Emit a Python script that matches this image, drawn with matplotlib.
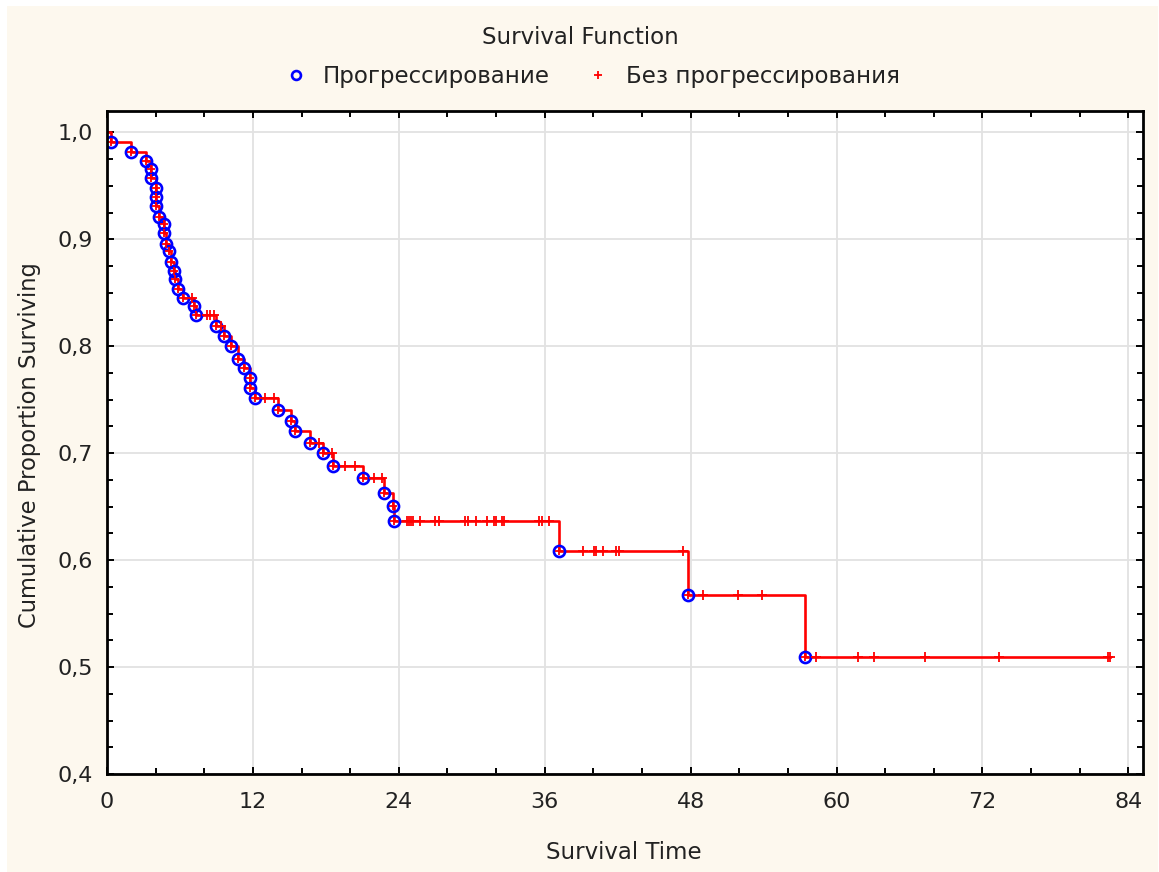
"""Kaplan-Meier style survival curve, recreated from a Statistica screenshot."""
import matplotlib
matplotlib.use("Agg")
import matplotlib.pyplot as plt
import numpy as np
from matplotlib.patches import Rectangle
from matplotlib.ticker import FuncFormatter, MultipleLocator

# event times (months) and survival right after each event
event_t = [0.36, 1.98, 3.24, 3.62, 3.62, 4.05, 4.05, 4.05, 4.26, 4.72, 4.72,
           4.86, 5.08, 5.27, 5.49, 5.63, 5.84, 6.26, 7.14, 7.34, 9.0, 9.6,
           10.16, 10.78, 11.25, 11.8, 11.8, 12.21, 14.07, 15.1, 15.5, 16.68,
           17.75, 18.58, 21.05, 22.77, 23.5, 23.64, 37.18, 47.82, 57.42]
event_s = [0.991, 0.982, 0.973, 0.966, 0.957, 0.948, 0.940, 0.931, 0.921,
           0.914, 0.906, 0.896, 0.889, 0.879, 0.870, 0.863, 0.854, 0.845,
           0.838, 0.829, 0.819, 0.810, 0.800, 0.788, 0.780, 0.770, 0.761,
           0.752, 0.740, 0.730, 0.721, 0.710, 0.700, 0.688, 0.677, 0.663,
           0.651, 0.637, 0.609, 0.567, 0.509]

# censored times (no progression)
censor_t = [7.0, 8.25, 8.5, 8.8, 9.4, 13.0, 13.7, 17.4, 18.5, 19.6, 20.4,
            21.96, 22.6, 24.67, 24.86, 25.02, 25.16, 25.77, 26.96, 27.3,
            29.44, 29.71, 30.32, 31.23, 31.83, 32.02, 32.47, 32.65, 35.53,
            35.75, 36.35, 39.18, 40.06, 40.25, 40.8, 41.89, 42.11, 47.41,
            49.05, 51.93, 53.83, 58.3, 61.73, 63.05, 67.3, 73.33, 82.35, 82.5]

TITLE = "Survival Function"
LABEL_EVENT = "Прогрессирование"
LABEL_CENSOR = "Без прогрессирования"
XLABEL = "Survival Time"
YLABEL = "Cumulative Proportion Surviving"

CREAM = "#fdf8ee"
TXT = "#222222"

plt.rcParams["font.family"] = ["DejaVu Sans"]


def main():
    fig = plt.figure(figsize=(11.59, 8.72), dpi=100, facecolor="white")
    fig.patches.append(Rectangle((7 / 1159, 0), 1 - 8 / 1159, 1 - 6 / 872,
                                 transform=fig.transFigure, facecolor=CREAM,
                                 edgecolor="none", zorder=-10))
    ax = fig.add_axes([107 / 1159, 1 - 774 / 872,
                       (1143 - 107) / 1159, (774 - 111) / 872])
    ax.set_facecolor("white")

    et = np.asarray(event_t)
    es = np.asarray(event_s)
    ct = np.asarray(censor_t)
    idx = np.searchsorted(et, ct, side="right") - 1
    cs = np.where(idx >= 0, es[np.clip(idx, 0, None)], 1.0)

    # step line from t=0 to last censored time
    xs = np.concatenate([[0.0], et, [ct.max()]])
    ys = np.concatenate([[1.0], es, [es[-1]]])
    ax.step(xs, ys, where="post", color="#ff0000", linewidth=1.9, zorder=3)

    ax.plot(et, es, "o", markersize=8, markerfacecolor="none",
            markeredgecolor="#0000ff", markeredgewidth=1.9, zorder=4,
            label=LABEL_EVENT)
    ax.plot(et, es, "+", markersize=6, color="#ff0000", markeredgewidth=1.3,
            zorder=5)
    ax.plot(ct, cs, "+", markersize=7.5, color="#ff0000", markeredgewidth=1.3,
            zorder=5, label=LABEL_CENSOR)

    ax.set_xlim(0, 85.2)
    ax.set_ylim(0.4, 1.02)
    ax.xaxis.set_major_locator(MultipleLocator(12))
    ax.xaxis.set_minor_locator(MultipleLocator(4))
    ax.yaxis.set_major_locator(MultipleLocator(0.1))
    ax.yaxis.set_minor_locator(MultipleLocator(0.025))
    ax.yaxis.set_major_formatter(
        FuncFormatter(lambda v, p: f"{v:.1f}".replace(".", ",")))
    ax.tick_params(which="both", direction="in", top=True, right=True,
                   width=1.4, colors="black", labelcolor=TXT, labelsize=16)
    ax.tick_params(which="major", length=5)
    ax.tick_params(which="minor", length=4)
    ax.tick_params(axis="x", which="major", pad=13)
    ax.tick_params(axis="y", which="major", pad=10)
    ax.grid(True, which="major", color="#e2e2e2", linewidth=1.3)
    ax.set_axisbelow(True)
    for s in ax.spines.values():
        s.set_linewidth(2.0)
        s.set_color("black")
        s.set_zorder(6)

    fig.text(580 / 1159, 1 - 38 / 872, TITLE, ha="center", va="center",
             fontsize=16.5, color=TXT)
    fig.text(624 / 1159, 1 - 852 / 872, XLABEL, ha="center", va="center",
             fontsize=16.5, color=TXT)
    fig.text(30 / 1159, 1 - 445 / 872, YLABEL, ha="center", va="center",
             rotation=90, fontsize=16.3, color=TXT)

    h, l = ax.get_legend_handles_labels()
    fig.legend(h, l, loc="center", bbox_to_anchor=(592 / 1159, 1 - 77 / 872),
               ncol=2, frameon=False, fontsize=16.5, markerscale=0.8,
               handlelength=1.0, handletextpad=0.7, columnspacing=1.6,
               labelcolor=TXT)

    fig.savefig("out.png", dpi=100, facecolor=fig.get_facecolor())


if __name__ == "__main__":
    main()
